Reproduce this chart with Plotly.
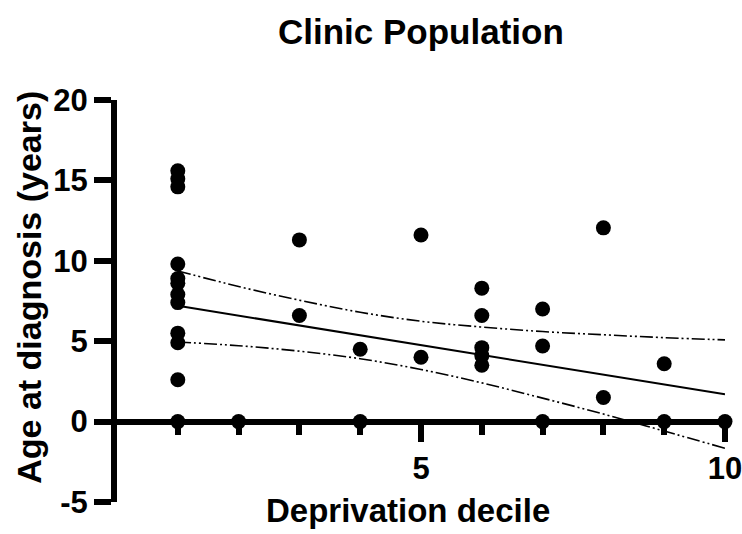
import plotly.graph_objects as go

# Data
decile = [1]*12 + [2] + [3]*2 + [4]*2 + [5]*2 + [6]*5 + [7]*3 + [8]*2 + [9]*2 + [10]
age = [15.6, 15.1, 14.6, 9.8, 8.9, 8.6, 7.9, 7.4, 5.5, 4.9, 2.6, 0,
       0,
       11.3, 6.6,
       4.5, 0,
       11.6, 4.0,
       8.3, 6.6, 4.6, 4.1, 3.5,
       7.0, 4.7, 0,
       12.05, 1.5,
       3.6, 0,
       0]

fit_x = [1, 10]
fit_y = [7.2, 1.7]

ci_x = [1, 2, 3, 4, 5, 6, 7, 8, 9, 10]
ci_upper = [9.37, 8.40, 7.55, 6.80, 6.24, 5.88, 5.60, 5.40, 5.22, 5.08]
ci_lower = [4.95, 4.72, 4.38, 3.91, 3.24, 2.41, 1.46, 0.47, -0.59, -1.66]

x_tickvals = [5, 10]
x_minor_tickvals = [1, 2, 3, 4, 6, 7, 8, 9]
y_tickvals = [-5, 0, 5, 10, 15, 20]
y_ticktext = ["-5", "0", "5", "10", "15", "20"]

FONT = "Liberation Sans, Arial, Helvetica, sans-serif"
dash = "13px,3px,2px,3px,2px,3px"

fig = go.Figure()
fig.add_trace(go.Scatter(x=ci_x, y=ci_upper, mode="lines", line=dict(color="black", width=1.6, dash=dash, shape="spline"), hoverinfo="skip"))
fig.add_trace(go.Scatter(x=ci_x, y=ci_lower, mode="lines", line=dict(color="black", width=1.6, dash=dash, shape="spline"), hoverinfo="skip"))
fig.add_trace(go.Scatter(x=fit_x, y=fit_y, mode="lines", line=dict(color="black", width=2)))
fig.add_trace(go.Scatter(x=decile, y=age, mode="markers", cliponaxis=False,
                         marker=dict(color="black", size=15, line=dict(width=0))))

fig.update_layout(
    width=742, height=534,
    margin=dict(l=117, r=17, t=100, b=32),
    paper_bgcolor="white", plot_bgcolor="white",
    showlegend=False,
    font=dict(family=FONT, color="black"),
    xaxis=dict(range=[0, 10], anchor="free", position=0.2, automargin=False,
               showline=True, linewidth=6, linecolor="black",
               showgrid=False, zeroline=False,
               tickmode="array", tickvals=x_tickvals, ticklabeloverflow="allow",
               ticks="outside", ticklen=17, tickwidth=6, tickcolor="black",
               tickfont=dict(size=31, family=FONT, weight="bold"),
               minor=dict(tickmode="array", tickvals=x_minor_tickvals, ticks="outside",
                          ticklen=10, tickwidth=6, tickcolor="black")),
    yaxis=dict(range=[-5, 20], automargin=False,
               tickmode="array", tickvals=y_tickvals, ticktext=y_ticktext,
               showline=True, linewidth=6, linecolor="black",
               showgrid=False, zeroline=False,
               ticks="outside", ticklen=17, tickwidth=6, tickcolor="black",
               tickfont=dict(size=31, family=FONT, weight="bold")),
    annotations=[
        dict(text="<b>Clinic Population</b>", xref="paper", yref="paper", x=0.5, y=1.17,
             xanchor="center", yanchor="middle", showarrow=False, font=dict(size=35, family=FONT)),
        dict(text="<b>Deprivation decile</b>", xref="paper", yref="paper", x=0.478, y=-0.02,
             xanchor="center", yanchor="middle", showarrow=False, font=dict(size=33, family=FONT)),
        dict(text="<b>Age at diagnosis (years)</b>", xref="paper", yref="paper", x=-0.145, y=0.535,
             xanchor="center", yanchor="middle", textangle=-90, showarrow=False, font=dict(size=34, family=FONT)),
    ],
)

fig.write_html("out.html")
